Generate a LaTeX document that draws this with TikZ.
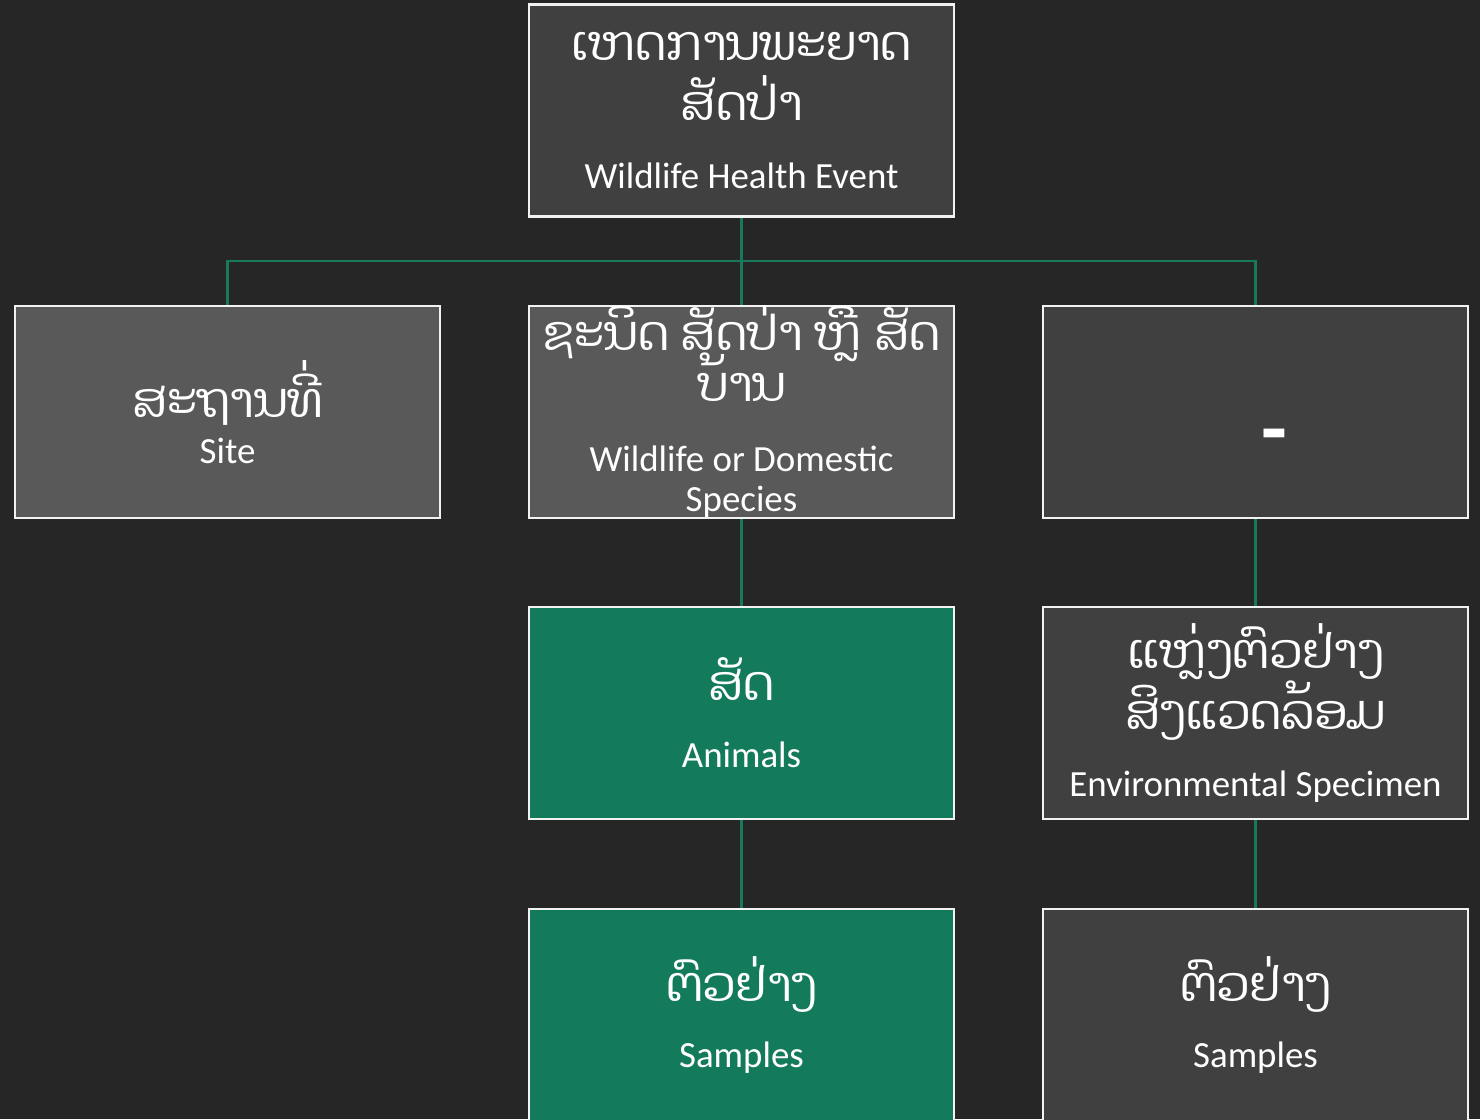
\documentclass[tikz,border=0pt]{standalone}
\usepackage{fontspec}
\setmainfont{Carlito}
\newfontfamily\laofont[Script=Lao]{Dhyana}
\definecolor{bgdark}{HTML}{262626}
\definecolor{boxdark}{HTML}{404040}
\definecolor{boxgray}{HTML}{595959}
\definecolor{boxgreen}{HTML}{137A5C}
\definecolor{linkgreen}{HTML}{17795B}
\newcommand{\lao}{\laofont\fontsize{27.5pt}{1pt}\selectfont}
\newcommand{\boxfont}{\fontsize{21pt}{1pt}\selectfont\lineskiplimit=-100pt\relax}

\begin{document}
\begin{tikzpicture}[x=0.02cm,y=-0.02cm,
    box/.style={draw=white!95!black, line width=1.3pt, fill=#1, minimum width=8.5cm,
      minimum height=4.24cm, inner sep=0pt, align=center, text=white, font=\boxfont},
    link/.style={draw=linkgreen, line width=1.5pt}]
      \fill[bgdark] (0,0) rectangle (1480,1119);
      \clip (0,0) rectangle (1480,1119);
      \node[box=boxdark] (event) at (741.5,110.5) {{\lao ເຫດການພະຍາດ}\\[33pt]{\lao ສັດປ່າ}\\[38pt]Wildlife Health Event};
      \node[box=boxgray] (site) at (227.5,412) {{\lao ສະຖານທີ່}\\[25pt]Site};
      \node[box=boxgray, text height=4.1cm, text depth=0.1cm] (species) at (741.5,412) {{\lao ຊະນິດ ສັດປ່າ ຫຼື ສັດ}\\[28pt]{\lao ບ້ານ}\\[39pt]Wildlife or Domestic\\[22pt]Species};
      \node[box=boxdark] (envsite) at (1255.5,412) {\hspace*{21pt}\raisebox{-26pt}[0pt][0pt]{\bfseries\fontsize{48pt}{1pt}\selectfont -}};
      \node[box=boxgreen] (animals) at (741.5,713) {{\lao ສັດ}\\[37pt]Animals};
      \node[box=boxdark] (envspec) at (1255.5,713) {{\lao ແຫຼ່ງຕົວຢ່າງ}\\[34pt]{\lao ສິງແວດລ້ອມ}\\[37pt]Environmental Specimen};
      \node[box=boxgreen] (anisamples) at (741.5,1015) {{\lao ຕົວຢ່າງ}\\[37pt]Samples};
      \node[box=boxdark] (envsamples) at (1255.5,1015) {{\lao ຕົວຢ່າງ}\\[37pt]Samples};
      \coordinate (bus) at (741.5,261);
      \draw[link] (event.south) -- (species.north);
      \draw[link] (site.north) |- (bus) -| (envsite.north);
      \draw[link] (species) -- (animals) -- (anisamples);
      \draw[link] (envsite) -- (envspec) -- (envsamples);
\end{tikzpicture}
\end{document}
